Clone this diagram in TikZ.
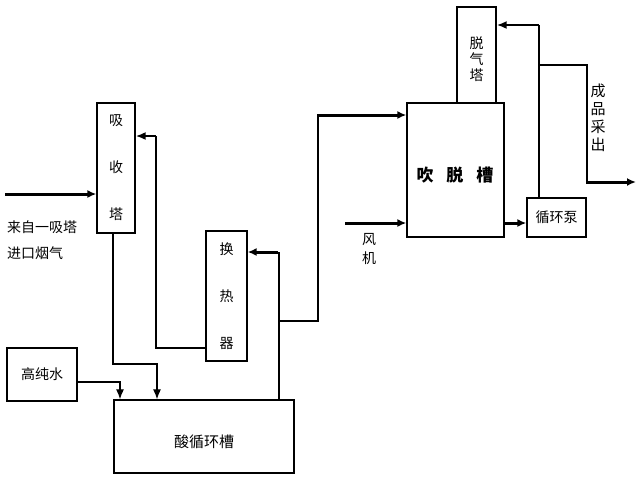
\documentclass[tikz,border=0pt]{standalone}
\usepackage{fontspec}
\setmainfont{Noto Sans CJK SC}
\usetikzlibrary{arrows.meta}
\tikzset{
  box/.style={draw, line width=1.3pt, inner sep=0pt, align=center, font=\fontsize{14}{16}\selectfont},
  thinline/.style={line width=1.2pt},
  thinarrow/.style={line width=1.2pt, -{Latex[length=10pt,width=8pt]}},
  midarrow/.style={line width=2pt, -{Latex[length=10pt,width=8pt]}},
  thickarrow/.style={line width=3pt, -{Latex[length=9pt,width=8pt]}},
  lbl/.style={font=\fontsize{14}{16}\selectfont, inner sep=0pt}
}
\begin{document}
\begin{tikzpicture}[x=1pt,y=-1pt]
\useasboundingbox (0,0) rectangle (640,480);
% boxes
\node (xst) [box, minimum width=38pt, minimum height=130pt] at (116,168) {吸\\[31pt]收\\[31pt]塔};
\node (hrq) [box, minimum width=41pt, minimum height=130pt] at (226.5,296) {换\\[31pt]热\\[31pt]器};
\node (gcs) [box, minimum width=70pt, minimum height=53pt] at (42,374.5) {高纯水};
\node (sxh) [box, minimum width=180pt, minimum height=73pt] at (204,436.5) {};
\node (sxht) [lbl, font=\fontsize{15}{17}\selectfont] at (204,442) {酸循环槽};
\node (ctc) [box, minimum width=97pt, minimum height=134pt] at (455.5,170) {};
\node (ctct) [lbl, font=\fontsize{17}{19}\selectfont\bfseries] at (455,175) {吹\hspace{13pt}脱\hspace{13pt}槽};
\node (tqt) [box, minimum width=39pt, minimum height=96pt] at (476.5,55) {};
\node (tqtt) [lbl, align=center, font=\fontsize{14}{16}\selectfont] at (476.5,59) {脱\\气\\塔};
\node (xhb) [box, minimum width=59pt, minimum height=39pt] at (556.5,217.5) {循环泵};
% labels
\node (src1) [lbl, anchor=west] at (7,227) {来自一吸塔};
\node (src2) [lbl, anchor=west] at (7,253) {进口烟气};
\node (fan) [lbl, align=center, font=\fontsize{14}{19}\selectfont] at (369,249) {风\\机};
\node (prod) [lbl, align=center, font=\fontsize{15}{18}\selectfont] at (598,118) {成\\品\\采\\出};
% coordinates
\coordinate (inflow) at (5,194);
\coordinate (fanin) at (345,223);
\coordinate (outend) at (636,182);
% connectors
\draw[thickarrow] (inflow) -- (inflow -| xst.west);
\draw[thinline] ([yshift=-52pt]hrq.west) -| (156,136);
\draw[midarrow] (156,136) -- (xst.east |- 156,136);
\draw[thinline] (sxh.north -| 279,0) -- (279,252);
\draw[thickarrow] (278,252) -- (hrq.east |- 0,252);
\draw[thinline] (279,321) -| (318,115);
\draw[thickarrow] (317,115) -- (ctc.west |- 0,115);
\draw[thinarrow] (xst.south -| 113,0) |- (157,364) -- (sxh.north -| 157,0);
\draw[thinarrow] (gcs.east |- 0,382) -| (sxh.north -| 120,0);
\draw[thickarrow] (ctc.east |- 0,223) -- (xhb.west |- 0,223);
\draw[thickarrow] (fanin) -- (ctc.west |- fanin);
\draw[thinline] (xhb.north -| 539,0) -- (539,25);
\draw[midarrow] (539,25) -- (tqt.east |- 0,25);
\draw[thinline] (539,65) -| (587,182);
\draw[thickarrow] (586,182) -- (outend);
\end{tikzpicture}
\end{document}
